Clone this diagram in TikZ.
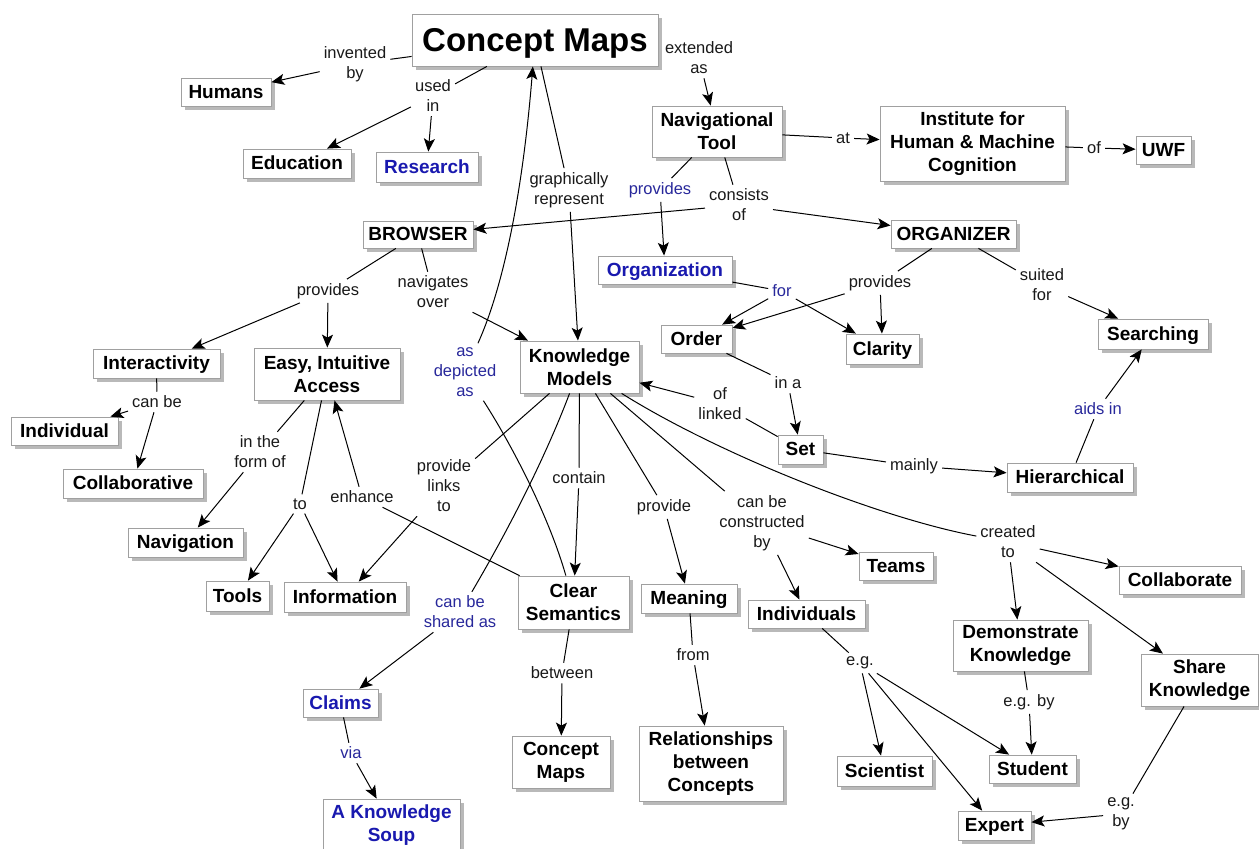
\documentclass[tikz,border=0pt]{standalone}
\usepackage{fontspec}
\setmainfont{Liberation Sans}
\usetikzlibrary{arrows.meta,shadows}
\definecolor{boxgray}{RGB}{160,160,160}
\definecolor{shadowgray}{RGB}{185,185,185}
\definecolor{nblue}{RGB}{25,25,175}
\definecolor{lblue}{RGB}{40,40,155}
\definecolor{lblack}{RGB}{25,25,25}
\newcommand{\cmapfont}{\fontsize{19}{23}\selectfont\bfseries}
\newcommand{\linkfont}{\fontsize{16.5}{20}\selectfont}
\tikzset{
  cbox/.style={draw=boxgray, fill=white, line width=0.8pt, font=\cmapfont, align=center, inner sep=2pt,
    general shadow={fill=shadowgray, shadow xshift=3.5pt, shadow yshift=-3.5pt}},
  sz/.style 2 args={minimum width=#1pt, minimum height=#2pt},
  one/.style={text height=13.6pt, text depth=1pt},
  bluetxt/.style={text=nblue},
  lbl/.style={font=\linkfont, align=center, inner sep=4pt, text=lblack},
  lblb/.style={lbl, text=lblue},
  conn/.style={line width=1pt, draw=black},
  arr/.style={conn, -{Stealth[length=13pt,width=11pt,inset=3pt]}},
}
\begin{document}
\begin{tikzpicture}[x=1pt,y=-1pt]
\useasboundingbox[fill=white] (0,0) rectangle (1259,849);
% ---------- concepts ----------
\node[cbox, sz={246}{52}, font=\fontsize{33}{38}\selectfont\bfseries, text height=24pt, text depth=2pt] (cm) at (535,40) {Concept Maps};
\node[cbox, one, sz={90}{28}] (humans) at (226,92) {Humans};
\node[cbox, one, sz={108}{29}] (education) at (297,163.5) {Education};
\node[cbox, one, sz={102}{30}, bluetxt] (research) at (427,167) {Research};
\node[cbox, sz={130}{51}] (navtool) at (717,131.5) {Navigational\\Tool};
\node[cbox, sz={185}{75}] (ihmc) at (972.5,143.5) {Institute for\\Human \& Machine\\Cognition};
\node[cbox, one, sz={55}{28}] (uwf) at (1163.5,150) {UWF};
\node[cbox, one, sz={110}{27}] (browser) at (418,234.5) {BROWSER};
\node[cbox, one, sz={125}{28}] (organizer) at (953.5,234) {ORGANIZER};
\node[cbox, one, sz={134}{28}, bluetxt] (organization) at (665,270) {Organization};
\node[cbox, one, sz={127}{29}] (interactivity) at (156.5,363.5) {Interactivity};
\node[cbox, sz={146}{52}] (easy) at (327,374) {Easy, Intuitive\\Access};
\node[cbox, one, sz={107}{28}] (individual) at (64.5,431) {Individual};
\node[cbox, one, sz={140}{29}] (collaborative) at (133,483.5) {Collaborative};
\node[cbox, one, sz={115}{29}] (navigation) at (185.5,542.5) {Navigation};
\node[cbox, sz={119}{52}] (km) at (579.5,367) {Knowledge\\Models};
\node[cbox, one, sz={71}{28}] (order) at (696.5,339) {Order};
\node[cbox, one, sz={73}{30}] (clarity) at (882.5,349) {Clarity};
\node[cbox, one, sz={110}{30}] (searching) at (1153,334) {Searching};
\node[cbox, one, sz={45}{29}] (nset) at (800.5,449.5) {Set};
\node[cbox, one, sz={126}{29}] (hier) at (1070,477.5) {Hierarchical};
\node[cbox, one, sz={63}{30}] (tools) at (237.5,596) {Tools};
\node[cbox, one, sz={122}{30}] (information) at (345,597) {Information};
\node[cbox, sz={111}{53}] (clearsem) at (573.5,602.5) {Clear\\Semantics};
\node[cbox, one, sz={96}{29}] (meaning) at (689,598.5) {Meaning};
\node[cbox, one, sz={74}{28}] (teams) at (896,566) {Teams};
\node[cbox, one, sz={117}{28}] (individuals) at (806.5,614) {Individuals};
\node[cbox, one, sz={122}{28}] (collaborate) at (1180,580) {Collaborate};
\node[cbox, sz={135}{51}] (demo) at (1020.5,645.5) {Demonstrate\\Knowledge};
\node[cbox, sz={117}{52}] (share) at (1199.5,680) {Share\\Knowledge};
\node[cbox, one, sz={75}{28}, bluetxt] (claims) at (340.5,703) {Claims};
\node[cbox, sz={137}{52}, bluetxt] (soup) at (391.5,825) {A Knowledge\\Soup};
\node[cbox, sz={98}{52}] (cm2) at (561,762) {Concept\\Maps};
\node[cbox, sz={144}{75}] (rel) at (711,763.5) {Relationships\\between\\Concepts};
\node[cbox, one, sz={95}{30}] (scientist) at (884.5,771) {Scientist};
\node[cbox, one, sz={87}{28}] (student) at (1032.5,769) {Student};
\node[cbox, one, sz={73}{29}] (expert) at (994.5,825.5) {Expert};
% ---------- linking phrases ----------
\node[lbl] (inv) at (355,64) {invented\\by};
\node[lbl] (usedin) at (433,96) {used\\in};
\node[lbl] (extas) at (699,58) {extended\\as};
\node[lbl] (at) at (843,138) {at};
\node[lbl] (of1) at (1094,148) {of};
\node[lbl] (graph) at (569,190) {graphically\\represent};
\node[lblb] (provnav) at (660,190) {provides};
\node[lbl] (consists) at (739,205) {consists\\of};
\node[lbl] (provbr) at (328,291) {provides};
\node[lbl] (navover) at (433,292) {navigates\\over};
\node[lbl] (canbe) at (157,402) {can be};
\node[lbl] (inform) at (260,452) {in the\\form of};
\node[lbl] (to) at (300,504) {to};
\node[lbl] (enhance) at (362,497) {enhance};
\node[lblb] (asdep) at (465,372) {as\\depicted\\as};
\node[lbl] (provlinks) at (444,486) {provide\\links\\to};
\node[lbl] (contain) at (579,478) {contain};
\node[lbl] (provide) at (664,507) {provide};
\node[lbl] (constr) at (762,523) {can be\\constructed\\by};
\node[lblb] (for) at (782,291) {for};
\node[lbl] (provorg) at (880,283) {provides};
\node[lbl] (suited) at (1042,285) {suited\\for};
\node[lbl] (ina) at (788,383) {in a};
\node[lbl] (oflinked) at (720,404) {of\\linked};
\node[lbl] (mainly) at (914,466) {mainly};
\node[lblb] (aids) at (1098,409) {aids in};
\node[lbl] (created) at (1008,542) {created\\to};
\node[lblb] (shared) at (460,612) {can be\\shared as};
\node[lbl] (between) at (562,673) {between};
\node[lbl] (from) at (693,655) {from};
\node[lblb] (via) at (351,753) {via};
\node[lbl] (eg) at (860,663) {e.g.};
\node[lbl] (egby1) at (1029,702) {e.g. by};
\node[lbl] (egby2) at (1121,814) {e.g.\\by};
% ---------- connectors ----------
\draw[conn] (cm) -- (inv);
\draw[arr] (inv) -- (humans);
\draw[conn] (cm) -- (usedin);
\draw[arr] (usedin) -- (education);
\draw[arr] (usedin) -- (research);
\draw[arr] (extas) -- (navtool);
\draw[conn] (navtool) -- (at);
\draw[arr] (at) -- (ihmc);
\draw[conn] (ihmc) -- (of1);
\draw[arr] (of1) -- (uwf);
\draw[conn] (navtool) -- (provnav);
\draw[arr] (provnav) -- (organization);
\draw[conn] (navtool) -- (consists);
\draw[arr] (consists) -- (browser);
\draw[arr] (consists) -- (organizer);
\draw[conn] (cm) -- (graph);
\draw[arr] (graph) -- (km);
\draw[conn] (clearsem) .. controls (550,520) and (515,450) .. (asdep);
\draw[arr] (asdep) .. controls (502,290) and (522,200) .. (cm);
\draw[conn] (browser) -- (provbr);
\draw[arr] (provbr) -- (interactivity);
\draw[arr] (provbr) -- (easy);
\draw[conn] (browser) -- (navover);
\draw[arr] (navover) -- (km);
\draw[conn] (interactivity) -- (canbe);
\draw[arr] (canbe) -- (individual);
\draw[arr] (canbe) -- (collaborative);
\draw[conn] (easy) -- (inform);
\draw[arr] (inform) -- (navigation);
\draw[conn] (easy) -- (to);
\draw[arr] (to) -- (tools);
\draw[arr] (to) -- (information);
\draw[conn] (clearsem) -- (enhance);
\draw[arr] (enhance) -- (easy);
\draw[conn] (km) -- (provlinks);
\draw[arr] (provlinks) -- (information);
\draw[conn] (km) .. controls (552,440) and (520,510) .. (shared);
\draw[arr] (shared) -- (claims);
\draw[conn] (km) -- (contain);
\draw[arr] (contain) -- (clearsem);
\draw[conn] (km) -- (provide);
\draw[arr] (provide) -- (meaning);
\draw[conn] (km) -- (constr);
\draw[arr] (constr) -- (teams);
\draw[arr] (constr) -- (individuals);
\draw[conn] (km) .. controls (720,455) and (880,518) .. (created);
\draw[arr] (created) -- (collaborate);
\draw[arr] (created) -- (demo);
\draw[arr] (created) -- (share);
\draw[conn] (organization) -- (for);
\draw[arr] (for) -- (order);
\draw[arr] (for) -- (clarity);
\draw[conn] (organizer) -- (provorg);
\draw[arr] (provorg) -- (clarity);
\draw[arr] (provorg) -- (order);
\draw[conn] (organizer) -- (suited);
\draw[arr] (suited) -- (searching);
\draw[conn] (order) -- (ina);
\draw[arr] (ina) -- (nset);
\draw[conn] (nset) -- (oflinked);
\draw[arr] (oflinked) -- (km);
\draw[conn] (nset) -- (mainly);
\draw[arr] (mainly) -- (hier);
\draw[conn] (hier) -- (aids);
\draw[arr] (aids) -- (searching);
\draw[conn] (clearsem) -- (between);
\draw[arr] (between) -- (cm2);
\draw[conn] (meaning) -- (from);
\draw[arr] (from) -- (rel);
\draw[conn] (claims) -- (via);
\draw[arr] (via) -- (soup);
\draw[conn] (individuals) -- (eg);
\draw[arr] (eg) -- (scientist);
\draw[arr] (eg) -- (student);
\draw[arr] (eg) -- (expert);
\draw[conn] (demo) -- (egby1);
\draw[arr] (egby1) -- (student);
\draw[conn] (share) -- (egby2);
\draw[arr] (egby2) -- (expert);
\end{tikzpicture}
\end{document}
